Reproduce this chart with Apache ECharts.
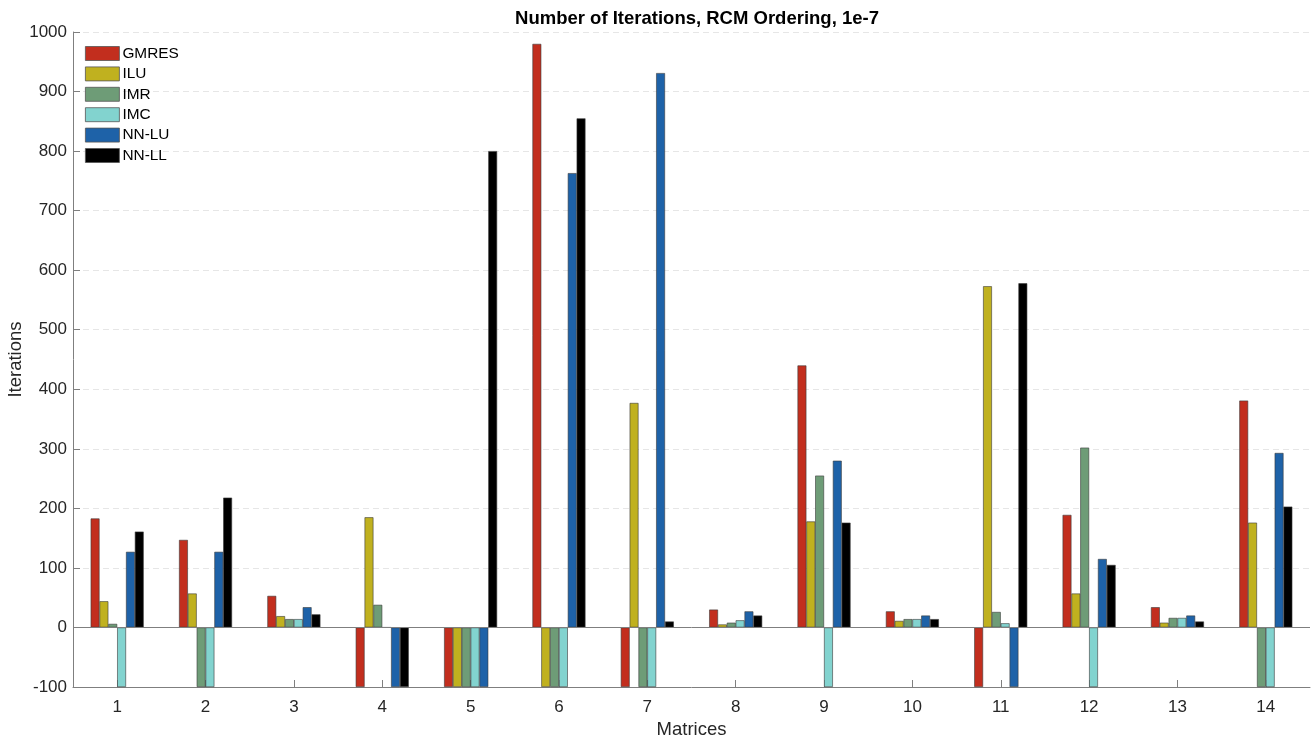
<!DOCTYPE html>
<html>
<head>
<meta charset="utf-8">
<script src="https://cdn.jsdelivr.net/npm/echarts@6/dist/echarts.min.js"></script>
<style>
  html, body { margin: 0; padding: 0; background: #fff; }
  #chart { width: 1316px; height: 739px; }
</style>
</head>
<body>
<div id="chart"></div>
<script>
// Matrix indices along the x axis
const matrices = ['1','2','3','4','5','6','7','8','9','10','11','12','13','14'];

// Iteration counts per solver (-100 marks a run that did not converge)
const gmres = [183, 147, 53, -100, -100, 980, -100, 30, 440, 27, -100, 189, 34, 381];
const ilu   = [44, 57, 19, 185, -100, -100, 377, 5, 178, 11, 573, 57, 8, 176];
const imr   = [6, -100, 14, 38, -100, -100, -100, 8, 255, 14, 26, 302, 16, -100];
const imc   = [-100, -100, 14, 0, -100, -100, -100, 12, -100, 14, 7, -100, 16, -100];
const nnlu  = [127, 127, 34, -100, -100, 763, 931, 27, 280, 20, -100, 115, 20, 293];
const nnll  = [161, 218, 22, -100, 800, 855, 10, 20, 176, 14, 578, 105, 10, 203];

const yTicks = { min: -100, max: 1000, interval: 100 };

const seriesDefs = [
  { name: 'GMRES', data: gmres, color: '#c22e1e' },
  { name: 'ILU',   data: ilu,   color: '#c0b11f' },
  { name: 'IMR',   data: imr,   color: '#6e9c77' },
  { name: 'IMC',   data: imc,   color: '#82d3cf' },
  { name: 'NN-LU', data: nnlu,  color: '#1e62a8' },
  { name: 'NN-LL', data: nnll,  color: '#000000' }
];

const fontFamily = '"Liberation Sans", Arial, Helvetica, sans-serif';

const chart = echarts.init(document.getElementById('chart'), null, { renderer: 'canvas' });

const series = seriesDefs.map((s, i) => ({
  name: s.name,
  type: 'bar',
  data: s.data,
  barGap: '0%',
  barCategoryGap: '40%',
  itemStyle: { color: s.color, borderColor: '#3a3a3a', borderWidth: 0.6 },
  emphasis: { disabled: true },
  markLine: i === 0 ? {
    silent: true,
    symbol: 'none',
    label: { show: false },
    lineStyle: { color: '#7f7f7f', type: 'solid', width: 1 },
    data: [{ yAxis: 0 }]
  } : undefined
}));

chart.setOption({
  animation: false,
  backgroundColor: '#ffffff',
  title: {
    text: 'Number of Iterations, RCM Ordering, 1e-7',
    left: 692,
    textAlign: 'center',
    top: 4,
    textStyle: { fontFamily, fontSize: 18.5, fontWeight: 'bold', color: '#000' }
  },
  legend: {
    orient: 'vertical',
    left: 80,
    top: 41,
    itemWidth: 34,
    itemHeight: 14,
    itemGap: 5.4,
    icon: 'rect',
    textStyle: { fontFamily, fontSize: 15.4, color: '#000', padding: [0, 0, 0, -2] },
    itemStyle: { borderColor: '#555', borderWidth: 0.8 },
    data: seriesDefs.map(s => s.name)
  },
  grid: { left: 73, right: 6, top: 32, bottom: 52, containLabel: false, outerBoundsMode: 'none' },
  xAxis: {
    type: 'category',
    data: matrices,
    name: 'Matrices',
    nameLocation: 'middle',
    nameGap: 33,
    nameMoveOverlap: false,
    nameTextStyle: { fontFamily, fontSize: 18.5, color: '#262626' },
    axisLine: { onZero: false, lineStyle: { color: '#7f7f7f', width: 1 } },
    axisTick: { show: true, inside: true, alignWithLabel: true, length: 7, lineStyle: { color: '#7f7f7f' } },
    axisLabel: { fontFamily, fontSize: 17, color: '#262626', margin: 12 },
    splitLine: { show: false }
  },
  yAxis: {
    type: 'value',
    min: yTicks.min,
    max: yTicks.max,
    interval: yTicks.interval,
    name: 'Iterations',
    nameLocation: 'middle',
    nameGap: 48,
    nameMoveOverlap: false,
    nameRotate: 90,
    nameTextStyle: { fontFamily, fontSize: 18.5, color: '#262626' },
    axisLine: { show: true, lineStyle: { color: '#7f7f7f', width: 1 } },
    axisTick: { show: true, inside: true, length: 7, lineStyle: { color: '#7f7f7f' } },
    axisLabel: { fontFamily, fontSize: 17, color: '#262626', margin: 6, formatter: v => String(v) },
    splitLine: { show: true, lineStyle: { color: '#e6e6e6', type: [6, 4], width: 1 } }
  },
  series
});
</script>
</body>
</html>
